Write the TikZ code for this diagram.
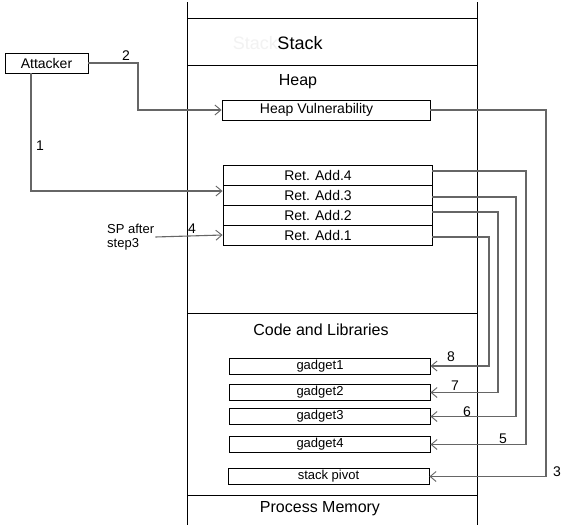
\documentclass[tikz,border=0pt]{standalone}
\usepackage{fontspec}
\setmainfont{Liberation Sans}
\usetikzlibrary{arrows.meta}
\newcommand{\boxtxt}[1]{#1\kern19pt}
\tikzset{
  membox/.style={draw, line width=0.9pt, inner sep=0pt, font=\fontsize{14}{16}\selectfont},
  retbox/.style={membox, minimum width=209pt, minimum height=20pt},
  gadgetbox/.style={membox, minimum width=201pt, minimum height=16pt, font=\fontsize{13}{15}\selectfont},
  conn/.style={draw=black!60, line width=1.1pt, -{Straight Barb[length=6pt,width=10pt,line width=0.9pt]}},
  steplabel/.style={font=\fontsize{14}{16}\selectfont, inner sep=0pt},
  region/.style={font=\fontsize{16}{19}\selectfont, inner sep=0pt}
}
\begin{document}
\begin{tikzpicture}[x=1pt, y=-1pt]
	\useasboundingbox[fill=white] (0,0) rectangle (573,530);
	% process memory frame
	\draw[line width=0.9pt] (187,2) -- (187,525);
	\draw[line width=0.9pt] (477,2) -- (477,525);
	\draw[line width=0.9pt] (187,18) -- (477,18);
	\draw[line width=0.9pt] (187,65) -- (477,65);
	\draw[line width=0.9pt] (187,313) -- (477,313);
	\draw[line width=0.9pt] (187,495) -- (477,495);
	\node[region, text=black!5, anchor=east] (ghost) at (278,43) {\fontsize{18}{20}\selectfont Stack};
	\node[region] (stack) at (300,43) {\fontsize{18}{20}\selectfont Stack};
	\node[region] (heap) at (298,81.5) {Heap};
	\node[region] (code) at (321,330) {Code and Libraries};
	\node[region] (procmem) at (320,509) {Process Memory};
	% boxes
	\node[membox, minimum width=83pt, minimum height=20pt] (att) at (46.5,63) {Attacker};
	\node[membox, minimum width=208pt, minimum height=20pt] (hv) at (326,110) {\boxtxt{Heap Vulnerability}};
	\node[retbox] (ra4) at (327.5,175) {\boxtxt{Ret. Add.4}};
	\node[retbox] (ra3) at (327.5,195) {\boxtxt{Ret. Add.3}};
	\node[retbox] (ra2) at (327.5,215) {\boxtxt{Ret. Add.2}};
	\node[retbox] (ra1) at (327.5,235) {\boxtxt{Ret. Add.1}};
	\node[gadgetbox] (g1) at (329.5,366) {\boxtxt{gadget1}};
	\node[gadgetbox] (g2) at (329.5,392.5) {\boxtxt{gadget2}};
	\node[gadgetbox] (g3) at (329.5,416.5) {\boxtxt{gadget3}};
	\node[gadgetbox] (g4) at (329.5,444.5) {\boxtxt{gadget4}};
	\node[gadgetbox] (piv) at (328.5,476.5) {stack pivot};
	\node[align=left, anchor=west, inner sep=1pt, font=\fontsize{13}{14}\selectfont] (sp) at (106,237) {SP after\\step3};
	% attack steps
	\draw[conn] (att.east) -- (138,63) |- (hv.west);
	\draw[conn] (att.south -| 31,0) -- (31,191) -- (ra3.west |- 0,191);
	\draw[conn] (hv.east) -- (546,110) |- (piv.east);
	\draw[conn] (sp.east) -- (ra1.west);
	\draw[conn] (ra4.east |- 0,171) -- (526,171) |- (g4.east);
	\draw[conn] (ra3.east |- 0,197) -- (516,197) |- (g3.east);
	\draw[conn] (ra2.east |- 0,212) -- (498,212) |- (g2.east);
	\draw[conn] (ra1.east |- 0,237) -- (489,237) |- (g1.east);
	\node[steplabel] (l2) at (126,56) {2};
	\node[steplabel] (l1) at (40,146) {1};
	\node[steplabel] (l4) at (192,229) {4};
	\node[steplabel] (l3) at (557,472) {3};
	\node[steplabel] (l5) at (503,439) {5};
	\node[steplabel] (l6) at (467,412) {6};
	\node[steplabel] (l7) at (455,386) {7};
	\node[steplabel] (l8) at (451,357) {8};
\end{tikzpicture}
\end{document}
